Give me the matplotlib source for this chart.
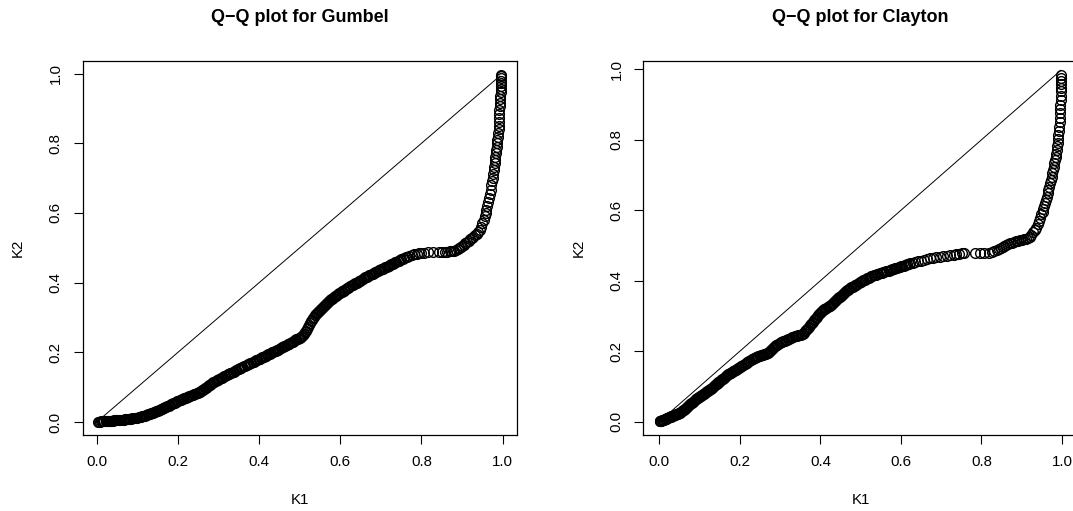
import numpy as np
import matplotlib
matplotlib.use("Agg")
import matplotlib.pyplot as plt

plt.rcParams["font.family"] = ["Liberation Sans", "DejaVu Sans"]

W, H, DPI = 1073, 511, 100

# Gumbel: sorted K1 / K2 quantile pairs
gumbel_k1 = [
    0.004, 0.006, 0.008, 0.010, 0.013, 0.016, 0.019, 0.022, 0.026, 0.030, 0.034, 0.038, 0.043,
    0.048, 0.053, 0.058, 0.064, 0.070, 0.076, 0.082, 0.088, 0.094, 0.100, 0.106, 0.112, 0.118,
    0.124, 0.129, 0.134, 0.139, 0.144, 0.150, 0.155, 0.160, 0.166, 0.171, 0.177, 0.183, 0.189,
    0.195, 0.201, 0.207, 0.213, 0.219, 0.225, 0.231, 0.237, 0.243, 0.249, 0.254, 0.259, 0.264,
    0.269, 0.274, 0.279, 0.284, 0.290, 0.296, 0.302, 0.308, 0.314, 0.320, 0.326, 0.332, 0.338,
    0.344, 0.350, 0.356, 0.362, 0.369, 0.375, 0.381, 0.387, 0.393, 0.399, 0.405, 0.411, 0.417,
    0.423, 0.429, 0.435, 0.441, 0.447, 0.453, 0.459, 0.465, 0.471, 0.477, 0.483, 0.489, 0.495,
    0.500, 0.505, 0.510, 0.515, 0.520, 0.525, 0.530, 0.535, 0.540, 0.545, 0.550, 0.555, 0.560,
    0.565, 0.570, 0.575, 0.580, 0.585, 0.590, 0.595, 0.600, 0.605, 0.610, 0.616, 0.622, 0.628,
    0.634, 0.640, 0.646, 0.652, 0.658, 0.665, 0.671, 0.677, 0.683, 0.689, 0.695, 0.701, 0.707,
    0.714, 0.720, 0.726, 0.732, 0.738, 0.744, 0.750, 0.757, 0.764, 0.770, 0.776, 0.782, 0.788,
    0.794, 0.800, 0.807, 0.815, 0.828, 0.842, 0.851, 0.858, 0.864, 0.869, 0.873, 0.877, 0.881,
    0.885, 0.889, 0.893, 0.897, 0.900, 0.904, 0.908, 0.912, 0.916, 0.920, 0.924, 0.928, 0.932,
    0.936, 0.940, 0.944, 0.947, 0.950, 0.953, 0.956, 0.958, 0.960, 0.962, 0.964, 0.966, 0.968,
    0.970, 0.972, 0.974, 0.975, 0.977, 0.978, 0.979, 0.980, 0.981, 0.982, 0.983, 0.984, 0.985,
    0.986, 0.987, 0.988, 0.989, 0.990, 0.990, 0.991, 0.991, 0.992, 0.992, 0.993, 0.993, 0.994,
    0.994, 0.995, 0.995, 0.995, 0.996, 0.996, 0.996, 0.997, 0.997,
    # dense part of the sample, between the values above
    0.024, 0.028, 0.032, 0.036, 0.040, 0.045, 0.050, 0.055, 0.061, 0.067, 0.073, 0.079, 0.085,
    0.091, 0.097, 0.103, 0.109, 0.115, 0.121,
    0.127, 0.132, 0.137, 0.142, 0.147, 0.153, 0.158, 0.163, 0.169, 0.174, 0.180, 0.186, 0.192,
    0.198, 0.204, 0.210, 0.216, 0.222, 0.228, 0.234, 0.240, 0.246, 0.252, 0.257, 0.262, 0.267,
    0.272, 0.277, 0.282, 0.287, 0.293, 0.299, 0.305, 0.311, 0.317, 0.323, 0.329, 0.335, 0.341,
    0.347, 0.353, 0.359, 0.366, 0.372, 0.378, 0.384, 0.390, 0.396, 0.402, 0.408, 0.414, 0.420,
    0.426, 0.432, 0.438, 0.444, 0.450, 0.456, 0.462, 0.468, 0.474, 0.480, 0.486, 0.492, 0.498,
    0.503,
    0.508, 0.513, 0.518, 0.523, 0.528, 0.533, 0.538, 0.543, 0.548, 0.553, 0.558, 0.563, 0.568,
    0.573, 0.578, 0.583, 0.588, 0.593, 0.598, 0.603, 0.608, 0.613, 0.619, 0.625, 0.631, 0.637,
    0.643, 0.649, 0.655, 0.662, 0.668, 0.674, 0.680, 0.686, 0.692, 0.698, 0.704, 0.711, 0.717,
    0.723, 0.729, 0.735, 0.741, 0.747, 0.754, 0.761,
]
gumbel_k2 = [
    0.001, 0.001, 0.001, 0.002, 0.002, 0.002, 0.003, 0.003, 0.003, 0.004, 0.004, 0.004, 0.005,
    0.005, 0.006, 0.006, 0.007, 0.008, 0.009, 0.010, 0.011, 0.012, 0.013, 0.015, 0.016, 0.018,
    0.021, 0.023, 0.025, 0.027, 0.029, 0.032, 0.035, 0.038, 0.041, 0.044, 0.047, 0.051, 0.054,
    0.057, 0.060, 0.063, 0.066, 0.069, 0.072, 0.075, 0.078, 0.081, 0.084, 0.087, 0.091, 0.095,
    0.099, 0.103, 0.107, 0.111, 0.116, 0.120, 0.124, 0.127, 0.131, 0.135, 0.138, 0.142, 0.145,
    0.149, 0.153, 0.156, 0.160, 0.164, 0.167, 0.170, 0.173, 0.177, 0.180, 0.184, 0.187, 0.191,
    0.194, 0.198, 0.201, 0.205, 0.208, 0.212, 0.215, 0.219, 0.223, 0.227, 0.231, 0.235, 0.239,
    0.242, 0.246, 0.253, 0.262, 0.272, 0.283, 0.294, 0.302, 0.309, 0.316, 0.322, 0.328, 0.334,
    0.339, 0.345, 0.350, 0.354, 0.358, 0.363, 0.367, 0.371, 0.375, 0.379, 0.384, 0.388, 0.392,
    0.396, 0.400, 0.404, 0.408, 0.412, 0.417, 0.421, 0.424, 0.428, 0.431, 0.435, 0.438, 0.442,
    0.446, 0.449, 0.453, 0.456, 0.460, 0.463, 0.467, 0.471, 0.474, 0.477, 0.479, 0.481, 0.482,
    0.484, 0.485, 0.486, 0.487, 0.488, 0.488, 0.489, 0.489, 0.489, 0.490, 0.490, 0.491, 0.492,
    0.494, 0.496, 0.499, 0.502, 0.505, 0.509, 0.513, 0.517, 0.520, 0.524, 0.528, 0.532, 0.536,
    0.541, 0.546, 0.551, 0.560, 0.570, 0.580, 0.591, 0.600, 0.609, 0.620, 0.631, 0.643, 0.655,
    0.667, 0.679, 0.691, 0.700, 0.712, 0.722, 0.733, 0.743, 0.752, 0.761, 0.771, 0.780, 0.790,
    0.800, 0.810, 0.819, 0.829, 0.840, 0.851, 0.862, 0.873, 0.884, 0.895, 0.906, 0.916, 0.926,
    0.936, 0.946, 0.955, 0.964, 0.972, 0.980, 0.988, 0.994, 0.997,
    0.003, 0.003, 0.004, 0.004, 0.004, 0.005, 0.005, 0.006, 0.006, 0.007, 0.008, 0.009, 0.010,
    0.011, 0.012, 0.014, 0.015, 0.017, 0.019,
    0.022, 0.024, 0.026, 0.028, 0.031, 0.034, 0.037, 0.040, 0.043, 0.046, 0.049, 0.053, 0.056,
    0.059, 0.062, 0.065, 0.068, 0.071, 0.074, 0.077, 0.080, 0.083, 0.086, 0.089, 0.093, 0.097,
    0.101, 0.105, 0.109, 0.114, 0.118, 0.122, 0.126, 0.129, 0.133, 0.137, 0.140, 0.144, 0.147,
    0.151, 0.155, 0.158, 0.162, 0.166, 0.169, 0.172, 0.175, 0.179, 0.182, 0.186, 0.189, 0.193,
    0.196, 0.200, 0.203, 0.207, 0.210, 0.214, 0.217, 0.221, 0.225, 0.229, 0.233, 0.237, 0.241,
    0.244,
    0.250, 0.258, 0.267, 0.278, 0.289, 0.298, 0.306, 0.313, 0.319, 0.325, 0.331, 0.337, 0.342,
    0.348, 0.352, 0.356, 0.361, 0.365, 0.369, 0.373, 0.377, 0.382, 0.386, 0.390, 0.394, 0.398,
    0.402, 0.406, 0.410, 0.415, 0.419, 0.423, 0.426, 0.430, 0.433, 0.437, 0.440, 0.444, 0.448,
    0.451, 0.455, 0.458, 0.462, 0.465, 0.469, 0.473,
]

# Clayton: sorted K1 / K2 quantile pairs
clayton_k1 = [
    0.001, 0.003, 0.005, 0.008, 0.011, 0.014, 0.017, 0.020, 0.024, 0.028, 0.032, 0.036, 0.040,
    0.044, 0.048, 0.052, 0.056, 0.061, 0.066, 0.071, 0.076, 0.081, 0.086, 0.091, 0.096, 0.101,
    0.106, 0.111, 0.116, 0.121, 0.126, 0.131, 0.137, 0.141, 0.145, 0.149, 0.153, 0.157, 0.162,
    0.167, 0.172, 0.177, 0.182, 0.187, 0.192, 0.197, 0.203, 0.209, 0.214, 0.219, 0.224, 0.229,
    0.234, 0.240, 0.246, 0.252, 0.258, 0.264, 0.269, 0.274, 0.279, 0.284, 0.290, 0.296, 0.302,
    0.308, 0.314, 0.320, 0.326, 0.333, 0.339, 0.345, 0.351, 0.357, 0.362, 0.367, 0.372, 0.377,
    0.382, 0.387, 0.392, 0.397, 0.402, 0.407, 0.412, 0.418, 0.424, 0.429, 0.434, 0.439, 0.444,
    0.449, 0.454, 0.459, 0.464, 0.469, 0.474, 0.480, 0.486, 0.492, 0.498, 0.504, 0.510, 0.516,
    0.523, 0.529, 0.535, 0.541, 0.547, 0.553, 0.559, 0.566, 0.573, 0.579, 0.585, 0.591, 0.597,
    0.603, 0.610, 0.616, 0.622, 0.629, 0.636, 0.643, 0.650, 0.657, 0.664, 0.672, 0.680, 0.688,
    0.696, 0.705, 0.714, 0.723, 0.731, 0.738, 0.745, 0.751, 0.757, 0.785, 0.797, 0.806, 0.818,
    0.826, 0.832, 0.838, 0.843, 0.849, 0.853, 0.857, 0.861, 0.866, 0.871, 0.876, 0.881, 0.886,
    0.891, 0.896, 0.901, 0.906, 0.911, 0.916, 0.920, 0.924, 0.928, 0.932, 0.936, 0.940, 0.943,
    0.946, 0.949, 0.952, 0.954, 0.956, 0.958, 0.960, 0.962, 0.964, 0.966, 0.968, 0.970, 0.972,
    0.974, 0.976, 0.978, 0.979, 0.981, 0.982, 0.984, 0.985, 0.987, 0.988, 0.989, 0.990, 0.991,
    0.992, 0.993, 0.994, 0.994, 0.995, 0.996, 0.996, 0.997, 0.997, 0.997, 0.997, 0.998, 0.998,
    0.998, 0.998,
    # dense part of the sample, between the values above
    0.002, 0.004, 0.007, 0.010, 0.013, 0.016, 0.019, 0.022, 0.026, 0.030, 0.034, 0.038, 0.042,
    0.046, 0.050, 0.054, 0.059, 0.064, 0.069, 0.074, 0.079, 0.084, 0.089, 0.094, 0.099, 0.104,
    0.109, 0.114, 0.119, 0.124, 0.129,
    0.134, 0.139, 0.143, 0.147, 0.151, 0.155, 0.160, 0.165, 0.170, 0.175, 0.180, 0.185, 0.190,
    0.195, 0.200, 0.206, 0.212, 0.217, 0.222, 0.227, 0.232, 0.237, 0.243, 0.249, 0.255, 0.261,
    0.267, 0.272, 0.277, 0.282, 0.287, 0.293, 0.299, 0.305, 0.311, 0.317, 0.323, 0.330, 0.336,
    0.342, 0.348, 0.354, 0.360, 0.365, 0.370, 0.375, 0.380, 0.385, 0.390, 0.395, 0.400, 0.405,
    0.410, 0.415, 0.421, 0.427, 0.432, 0.437, 0.442, 0.447, 0.452, 0.457, 0.462, 0.467, 0.472,
    0.477, 0.483, 0.489, 0.495, 0.501, 0.507, 0.513, 0.520, 0.526, 0.532, 0.538, 0.544, 0.550,
    0.556, 0.563, 0.570, 0.576, 0.582, 0.588, 0.594, 0.600, 0.607, 0.613, 0.619,
]
clayton_k2 = [
    0.001, 0.002, 0.003, 0.004, 0.006, 0.007, 0.009, 0.010, 0.012, 0.014, 0.016, 0.018, 0.020,
    0.022, 0.024, 0.026, 0.029, 0.034, 0.039, 0.044, 0.049, 0.054, 0.059, 0.064, 0.068, 0.072,
    0.076, 0.080, 0.084, 0.088, 0.092, 0.096, 0.102, 0.106, 0.110, 0.114, 0.118, 0.122, 0.127,
    0.132, 0.136, 0.139, 0.143, 0.146, 0.150, 0.153, 0.157, 0.161, 0.165, 0.169, 0.173, 0.177,
    0.180, 0.183, 0.186, 0.188, 0.190, 0.193, 0.196, 0.201, 0.206, 0.211, 0.217, 0.221, 0.225,
    0.228, 0.231, 0.234, 0.237, 0.241, 0.243, 0.245, 0.247, 0.250, 0.256, 0.263, 0.270, 0.277,
    0.284, 0.291, 0.298, 0.305, 0.311, 0.317, 0.321, 0.325, 0.329, 0.334, 0.340, 0.345, 0.350,
    0.355, 0.360, 0.365, 0.370, 0.375, 0.379, 0.383, 0.387, 0.391, 0.395, 0.399, 0.403, 0.407,
    0.411, 0.414, 0.416, 0.418, 0.421, 0.423, 0.425, 0.428, 0.430, 0.432, 0.435, 0.437, 0.439,
    0.442, 0.444, 0.447, 0.449, 0.451, 0.453, 0.455, 0.457, 0.459, 0.461, 0.464, 0.465, 0.466,
    0.467, 0.469, 0.470, 0.472, 0.473, 0.475, 0.476, 0.478, 0.480, 0.480, 0.480, 0.480, 0.480,
    0.481, 0.484, 0.487, 0.490, 0.494, 0.496, 0.498, 0.500, 0.503, 0.506, 0.508, 0.510, 0.512,
    0.514, 0.516, 0.517, 0.518, 0.519, 0.520, 0.525, 0.531, 0.538, 0.545, 0.551, 0.561, 0.570,
    0.579, 0.588, 0.596, 0.603, 0.612, 0.621, 0.630, 0.639, 0.648, 0.657, 0.667, 0.676, 0.686,
    0.695, 0.705, 0.714, 0.723, 0.733, 0.742, 0.752, 0.761, 0.771, 0.781, 0.792, 0.803, 0.814,
    0.825, 0.837, 0.850, 0.862, 0.875, 0.888, 0.900, 0.913, 0.925, 0.937, 0.948, 0.958, 0.967,
    0.976, 0.984,
    0.002, 0.003, 0.004, 0.005, 0.007, 0.008, 0.010, 0.011, 0.013, 0.015, 0.017, 0.019, 0.021,
    0.023, 0.025, 0.028, 0.032, 0.037, 0.042, 0.047, 0.052, 0.057, 0.062, 0.066, 0.070, 0.074,
    0.078, 0.082, 0.086, 0.090, 0.094,
    0.099, 0.104, 0.108, 0.112, 0.116, 0.120, 0.125, 0.130, 0.134, 0.138, 0.141, 0.145, 0.148,
    0.152, 0.155, 0.159, 0.163, 0.167, 0.171, 0.175, 0.179, 0.182, 0.185, 0.187, 0.189, 0.192,
    0.195, 0.199, 0.204, 0.209, 0.214, 0.219, 0.223, 0.227, 0.230, 0.233, 0.236, 0.239, 0.242,
    0.244, 0.246, 0.249, 0.253, 0.260, 0.267, 0.274, 0.281, 0.288, 0.295, 0.302, 0.308, 0.314,
    0.319, 0.323, 0.327, 0.332, 0.337, 0.343, 0.348, 0.353, 0.358, 0.363, 0.368, 0.373, 0.377,
    0.381, 0.385, 0.389, 0.393, 0.397, 0.401, 0.405, 0.409, 0.413, 0.415, 0.417, 0.420, 0.422,
    0.424, 0.427, 0.429, 0.431, 0.434, 0.436, 0.438, 0.441, 0.443, 0.446, 0.448,
]

# reference 1:1 segments drawn over each panel
gumbel_ref = [0.008, 0.993]
clayton_ref = [0.027, 0.997]

titles = ["Q\u2212Q plot for Gumbel", "Q\u2212Q plot for Clayton"]
tick_vals = [0.0, 0.2, 0.4, 0.6, 0.8, 1.0]
tick_text = ["0.0", "0.2", "0.4", "0.6", "0.8", "1.0"]

panels = [
    dict(k1=gumbel_k1, k2=gumbel_k2, ref=gumbel_ref, title=titles[0],
         box=(82.7, 60.7, 517.3, 435.3), xlim=(-0.0345, 1.036), ylim=(-0.038, 1.037)),
    dict(k1=clayton_k1, k2=clayton_k2, ref=clayton_ref, title=titles[1],
         box=(643.3, 60.7, 1078.0, 435.3), xlim=(-0.0397, 1.0397), ylim=(-0.0386, 1.0244)),
]

fig = plt.figure(figsize=(W / DPI, H / DPI), dpi=DPI)
FS = 10.8

for p in panels:
    assert len(p["k1"]) == len(p["k2"])
    x0, y0, x1, y1 = p["box"]
    ax = fig.add_axes([x0 / W, 1 - y1 / H, (x1 - x0) / W, (y1 - y0) / H])
    ax.plot(p["k1"], p["k2"], linestyle="none", marker="o", ms=7.0,
            mfc="none", mec="black", mew=1.0)
    ax.plot(p["ref"], p["ref"], color="black", lw=0.7)
    ax.set_xlim(*p["xlim"])
    ax.set_ylim(*p["ylim"])
    ax.set_xticks(tick_vals)
    ax.set_xticklabels(tick_text, fontsize=FS)
    ax.set_yticks(tick_vals)
    ax.set_yticklabels(tick_text, fontsize=FS, rotation=90, va="center")
    ax.tick_params(direction="out", length=6.8, width=0.8, pad=7.5)
    for s in ax.spines.values():
        s.set_linewidth(0.9)
    cx = (x0 + x1) / 2
    cy = (y0 + y1) / 2
    fig.text(cx / W, 1 - 18 / H, p["title"], ha="center", va="center",
             fontsize=13, fontweight="bold")
    fig.text(cx / W, 1 - 500 / H, "K1", ha="center", va="center", fontsize=FS)
    fig.text((x0 - 65) / W, 1 - cy / H, "K2", ha="center", va="center",
             fontsize=FS, rotation=90)

fig.savefig("out.png", dpi=DPI)
